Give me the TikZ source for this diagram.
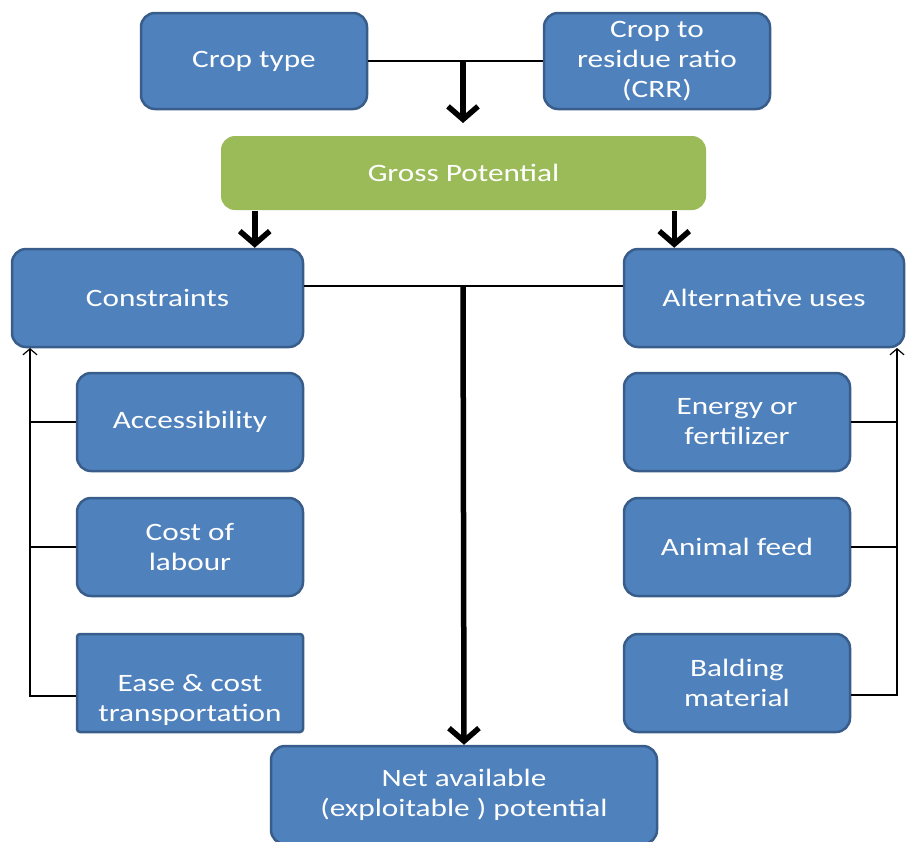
\documentclass[tikz,border=0pt]{standalone}
\usepackage{fontspec}
\setmainfont{Carlito}[FakeStretch=1.25]
\usetikzlibrary{arrows.meta}
\definecolor{boxblue}{HTML}{4F81BD}
\definecolor{boxedge}{HTML}{385D8A}
\definecolor{boxgreen}{HTML}{9BBB59}
\begin{document}
\begin{tikzpicture}[x=1pt,y=-1pt,
  box/.style={draw=boxedge, line width=2.5pt, fill=boxblue, rounded corners=14pt,
    text=white, align=center, font=\fontsize{25}{30}\selectfont, inner sep=0pt},
  gbox/.style={box, draw=none, fill=boxgreen},
  boxtext/.style={text=white, align=center, font=\fontsize{25}{30}\selectfont, inner sep=0pt},
  thickarrow/.style={line width=5.5pt, -{Straight Barb[length=13pt,width=30pt]}},
  thinline/.style={line width=1.2pt},
  thinarrow/.style={thinline, -{Straight Barb[length=6pt,width=14pt]}}]
\useasboundingbox (0,0) rectangle (907,841);
\clip (0,0) rectangle (907,841);

\node[box, minimum width=226pt, minimum height=96pt] (crop) at (254,61) {Crop type};
\node[box, minimum width=226pt, minimum height=96pt] (crr) at (657,61) {Crop to\\residue ratio\\(CRR)};
\node[gbox, minimum width=485pt, minimum height=74pt] (gross) at (463.5,173) {Gross Potential};
\node[box, minimum width=291pt, minimum height=98pt] (cons) at (157.5,298) {Constraints};
\node[box, minimum width=280pt, minimum height=98pt] (alt) at (764,298) {Alternative uses};
\node[box, minimum width=226pt, minimum height=98pt] (acc) at (190,422) {Accessibility};
\node[box, minimum width=226pt, minimum height=98pt] (cost) at (190,547) {Cost of\\labour};
\node[box, rounded corners=3pt, minimum width=226pt, minimum height=98pt] (ease) at (190,683) {};
\node[boxtext] (easetext) at ([yshift=-17pt]ease.center) {Ease \& cost\\transportation};
\node[box, minimum width=226pt, minimum height=98pt] (energy) at (737,422) {Energy or\\fertilizer};
\node[box, minimum width=226pt, minimum height=98pt] (feed) at (737,547) {Animal feed};
\node[box, minimum width=226pt, minimum height=98pt] (bald) at (737,683) {Balding\\material};
\node[box, minimum width=386pt, minimum height=98pt] (net) at (464,795) {Net available\\(exploitable ) potential};

\coordinate (topj) at (463,61);
\coordinate (topend) at (463,123);
\coordinate (midj) at (463,286);
\coordinate (lbus) at (30,348);
\coordinate (rbus) at (897,348);

\draw[thinline] (crop.east) -- (crr.west);
\draw[thickarrow] (topj) -- (topend);
\draw[thickarrow] ([xshift=35pt]gross.south west) -- ([xshift=35pt]gross.south west |- cons.north);
\draw[thickarrow] ([xshift=-33pt]gross.south east) -- ([xshift=-33pt]gross.south east |- alt.north);
\draw[thinline] ([yshift=12pt]cons.east) -- ([yshift=12pt]alt.west);
\draw[thickarrow] (midj) -- (net.north);

\draw[thinarrow] ([yshift=-13pt]ease.west) -| (lbus);
\draw[thinline] (acc.west) -- (acc.west -| lbus);
\draw[thinline] (cost.west) -- (cost.west -| lbus);

\draw[thinarrow] ([yshift=-12pt]bald.east) -| (rbus);
\draw[thinline] (energy.east) -- (energy.east -| rbus);
\draw[thinline] (feed.east) -- (feed.east -| rbus);
\end{tikzpicture}
\end{document}
